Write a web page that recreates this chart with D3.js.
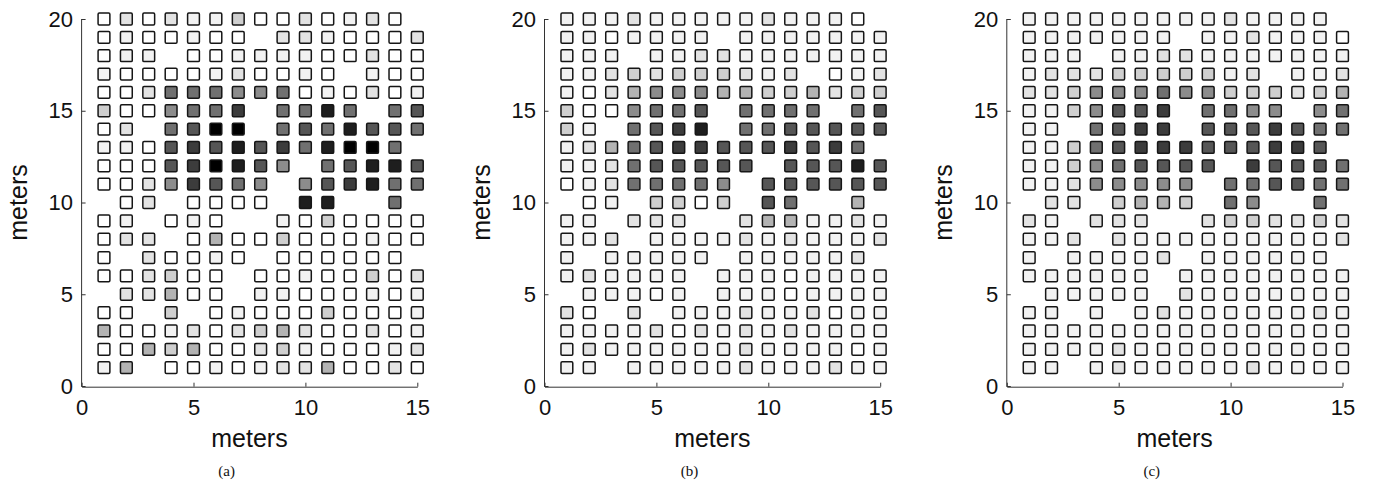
<!DOCTYPE html>
<html>
<head>
<meta charset="utf-8">
<script src="https://cdn.jsdelivr.net/npm/d3@7"></script>
<style>
  html, body { margin: 0; padding: 0; background: #fff; }
  svg { display: block; }
  .tick text { font-family: "Liberation Sans", Arial, Helvetica, sans-serif; }
</style>
</head>
<body>
<svg id="chart" width="1375" height="483"></svg>
<script>
// Grid of sensor nodes, one string per row from y = 20 down to y = 1,
// one character per column x = 1..15. "." = no node, 0..9/A = intensity level.
const panelA = [
  "02021130020120.",
  "0100100.2210002",
  "011.00111100200",
  "10000120010.100",
  "002666556010201",
  "3005668.6696.67",
  "02.67AA.6769776",
  "11078797869AA6.",
  "00078A975.67997",
  "00258765.578966",
  ".02.0000.99..6.",
  "01.010..1030000",
  "022.04003000100",
  "0.20010.000000.",
  "002300.00100302",
  ".22400.11000101",
  "00.3.0100030001",
  "400120234200201",
  "004340023100012",
  "14.001012240020"
];
const panelB = [
  "11121111121110.",
  "1101111.1111111",
  "111.11221111111",
  "11232333212.012",
  "102455544334233",
  "3005667.6666.67",
  "31.6789.6677777",
  "12467887778786.",
  "112677777.77797",
  "01266665.777777",
  ".01.3303.76..4.",
  "11.222..2441121",
  "112.11112121112",
  "1.11111.111112.",
  "121111.11101111",
  ".11101.11101111",
  "20.2.1112112011",
  "111120212121111",
  "121111112111101",
  "11.111112111211"
];
const panelC = [
  "11111111121111.",
  "1111111.1121110",
  "111.11221111111",
  "12223333312.112",
  "223555655333234",
  "1135778.6655.56",
  "11.6788.7778766",
  "11367888777887.",
  "113567777.87776",
  "11255555.667766",
  ".22.3443.65..6.",
  "21.222..2332232",
  "112.21111111112",
  "1.11112.111111.",
  "111111.11111111",
  ".11111.21111111",
  "11.1.1211111121",
  "111111111111111",
  "111121111111111",
  "11.121111121111"
];

const captions = ["(a)", "(b)", "(c)"];
const xTicks = [0, 5, 10, 15];
const yTicks = [0, 5, 10, 15, 20];
const axisLabel = "meters";

// grey level for each intensity step (0 = white … 10 = black)
const levelGreys = ["#ffffff", "#f2f2f2", "#e3e3e3", "#cfcfcf", "#b3b3b3",
                    "#8c8c8c", "#707070", "#565656", "#3c3c3c", "#1e1e1e", "#000000"];

const panels = [
  { rows: panelA, x0: 81.6 },
  { rows: panelB, x0: 544.5 },
  { rows: panelC, x0: 1006.8 }
];

const svg = d3.select("#chart");
const unit = 22.38;
const yBottom = 386, yTop = 19;
const sansFont = '"Liberation Sans", Arial, Helvetica, sans-serif';
const colour = d3.scaleOrdinal().domain(d3.range(11)).range(levelGreys);

function toCells(rows) {
  const cells = [];
  rows.forEach((row, i) => {
    const yv = 20 - i;
    row.split("").forEach((ch, j) => {
      if (ch === ".") return;
      cells.push({ x: j + 1, y: yv, level: parseInt(ch, 16) });
    });
  });
  return cells;
}

panels.forEach((p, k) => {
  const x = d3.scaleLinear().domain([0, 15]).range([p.x0, p.x0 + 15 * unit]);
  const y = d3.scaleLinear().domain([0, 20]).range([yBottom, yTop]);
  const g = svg.append("g");

  // nodes
  const size = 11.8;
  g.append("g").selectAll("rect")
    .data(toCells(p.rows))
    .join("rect")
    .attr("x", d => x(d.x) - size / 2)
    .attr("y", d => y(d.y) - size / 2)
    .attr("width", size)
    .attr("height", size)
    .attr("rx", 1.2)
    .attr("fill", d => colour(d.level))
    .attr("stroke", "#161616")
    .attr("stroke-width", 1.5);

  // axes: left and bottom only, ticks pointing inward
  const xAxis = d3.axisBottom(x).tickValues(xTicks).tickSizeInner(-4).tickSizeOuter(0).tickPadding(13);
  const yAxis = d3.axisLeft(y).tickValues(yTicks).tickSizeInner(-4).tickSizeOuter(0).tickPadding(8.5);

  const gx = g.append("g").attr("transform", `translate(0,${yBottom + 0.7})`).call(xAxis);
  const gy = g.append("g").attr("transform", `translate(${p.x0},0)`).call(yAxis);
  [gx, gy].forEach(a => {
    a.select(".domain").attr("stroke", "#333").attr("stroke-width", 1);
    a.selectAll(".tick line").attr("stroke", "#333");
    a.selectAll(".tick text").attr("fill", "#111").attr("font-size", 22).attr("font-family", sansFont);
  });
  gy.select(".domain").attr("d", `M0,${yBottom + 0.7}V${yTop}`);

  // axis titles
  g.append("text")
    .attr("x", x(7.5))
    .attr("y", 447)
    .attr("text-anchor", "middle")
    .attr("font-family", sansFont)
    .attr("font-size", 25)
    .attr("fill", "#111")
    .text(axisLabel);
  g.append("text")
    .attr("transform", `translate(${p.x0 - 55},${y(10)}) rotate(-90)`)
    .attr("text-anchor", "middle")
    .attr("font-family", sansFont)
    .attr("font-size", 25)
    .attr("fill", "#111")
    .text(axisLabel);

  // sub-figure caption
  g.append("text")
    .attr("x", p.x0 + 145)
    .attr("y", 476)
    .attr("text-anchor", "middle")
    .attr("font-family", '"Liberation Serif", "Times New Roman", serif')
    .attr("font-size", 15)
    .attr("fill", "#111")
    .text(captions[k]);
});
</script>
</body>
</html>
